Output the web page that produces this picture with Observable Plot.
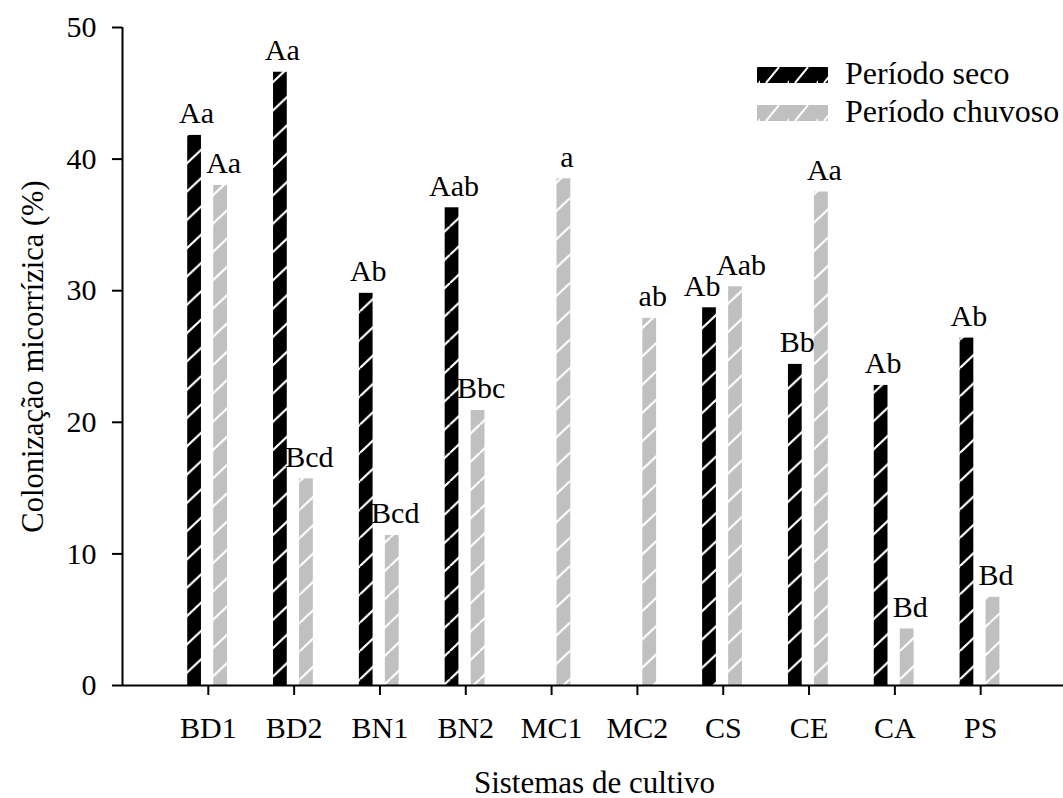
<!DOCTYPE html>
<html>
<head>
<meta charset="utf-8">
<script src="https://cdn.jsdelivr.net/npm/d3@7"></script>
<script src="https://cdn.jsdelivr.net/npm/@observablehq/plot@0.6"></script>
<style>
  html, body { margin: 0; padding: 0; background: #fff; overflow: hidden; }
  #wrap { position: relative; width: 1063px; height: 798px; }
  #legend { position: absolute; left: 0; top: 0; pointer-events: none; }
  text { font-family: "Liberation Serif", "Times New Roman", serif; }
</style>
</head>
<body>
<div id="wrap"></div>
<script>
// ---- data ----
const categories = ["BD1", "BD2", "BN1", "BN2", "MC1", "MC2", "CS", "CE", "CA", "PS"];
const seco      = [41.8, 46.6, 29.8, 36.3, null, null, 28.7, 24.4, 22.8, 26.4];
const chuvoso   = [38.0, 15.7, 11.4, 20.9, 38.5, 27.9, 30.3, 37.5, 4.3, 6.7];
const secoLabels    = ["Aa", "Aa", "Ab", "Aab", "", "", "Ab", "Bb", "Ab", "Ab"];
const chuvosoLabels = ["Aa", "Bcd", "Bcd", "Bbc", "a", "ab", "Aab", "Aa", "Bd", "Bd"];
const seriesNames = ["Período seco", "Período chuvoso"];
const yTicks = [0, 10, 20, 30, 40, 50];
const xTitle = "Sistemas de cultivo";
const yTitle = "Colonização micorrízica (%)";

// ---- layout/style settings (not data) ----
const FONT = "Liberation Serif";
const off = {dry: [-0.24, -0.08], wet: [0.063, 0.224]};
// small label nudges (in category units) to avoid collisions, as in the original
const labelNudge = {dry: {CS: -0.11}, wet: {CS: 0.03}};

// ---- build table ----
const rows = [];
categories.forEach((c, k) => {
  if (seco[k] != null) rows.push({i: k + 1, cat: c, series: seriesNames[0], value: seco[k], label: secoLabels[k]});
  if (chuvoso[k] != null) rows.push({i: k + 1, cat: c, series: seriesNames[1], value: chuvoso[k], label: chuvosoLabels[k]});
});
const dryRows = rows.filter(d => d.series === seriesNames[0]);
const wetRows = rows.filter(d => d.series === seriesNames[1]);

const chart = Plot.plot({
  width: 1063,
  height: 798,
  marginTop: 27,
  marginBottom: 113,
  marginLeft: 122,
  marginRight: 0,
  style: {fontFamily: FONT, fontSize: "30px", color: "black", background: "white", overflow: "visible"},
  x: {domain: [0, 11], range: [122, 1066]},
  y: {domain: [0, 50]},
  marks: [
    Plot.rect(dryRows, {x1: d => d.i + off.dry[0], x2: d => d.i + off.dry[1], y1: 0, y2: "value", fill: "url(#hatchDark)"}),
    Plot.rect(wetRows, {x1: d => d.i + off.wet[0], x2: d => d.i + off.wet[1], y1: 0, y2: "value", fill: "url(#hatchLight)"}),
    Plot.text(dryRows, {x: d => d.i + (off.dry[0] + off.dry[1]) / 2 + (labelNudge.dry[d.cat] || 0), y: "value", text: "label", lineAnchor: "bottom", dy: -12, dx: 2, fontSize: 30, fill: "black"}),
    Plot.text(wetRows, {x: d => d.i + (off.wet[0] + off.wet[1]) / 2 + (labelNudge.wet[d.cat] || 0), y: "value", text: "label", lineAnchor: "bottom", dy: -12, dx: 3, fontSize: 30, fill: "black"}),
    Plot.axisY({ticks: yTicks, tickSize: 10, tickPadding: 16, fontSize: 30, strokeWidth: 2, label: null, stroke: "black", fill: "black"}),
    Plot.axisX({ticks: d3.range(1, categories.length + 1), tickFormat: i => categories[i - 1], tickSize: 10, tickPadding: 21, fontSize: 30, strokeWidth: 2, label: null, stroke: "black", fill: "black"}),
    Plot.ruleX([0], {stroke: "black", strokeWidth: 2}),
    Plot.ruleY([0], {stroke: "black", strokeWidth: 2}),
    Plot.text([yTitle], {frameAnchor: "left", rotate: -90, dx: -80, lineAnchor: "bottom", textAnchor: "middle", fontSize: 30.5, fill: "black"}),
    Plot.text([xTitle], {frameAnchor: "bottom", dy: 107, dx: 1.5, lineAnchor: "bottom", textAnchor: "middle", fontSize: 31, fill: "black"})
  ]
});

// hatch patterns
const ns = "http://www.w3.org/2000/svg";
function makePattern(id, color, w, h) {
  const p = document.createElementNS(ns, "pattern");
  p.setAttribute("id", id);
  p.setAttribute("patternUnits", "userSpaceOnUse");
  p.setAttribute("width", w);
  p.setAttribute("height", h);
  const r = document.createElementNS(ns, "rect");
  r.setAttribute("width", w); r.setAttribute("height", h); r.setAttribute("fill", color);
  p.appendChild(r);
  const path = document.createElementNS(ns, "path");
  path.setAttribute("d", `M${-w},${h}L0,0M0,${h}L${w},0M${w},${h}L${2 * w},0`);
  path.setAttribute("stroke", "white");
  path.setAttribute("stroke-width", "2.2");
  p.appendChild(path);
  return p;
}
const defs = document.createElementNS(ns, "defs");
defs.appendChild(makePattern("hatchDark", "black", 30, 28.3));
defs.appendChild(makePattern("hatchLight", "#c0c0c0", 30, 28.3));
chart.insertBefore(defs, chart.firstChild);

const wrap = document.getElementById("wrap");
wrap.appendChild(chart);

// legend overlay
const legend = d3.select(wrap).append("svg")
  .attr("id", "legend").attr("width", 1063).attr("height", 798);
const ldefs = legend.append("defs");
[["legDark", "black"], ["legLight", "#c0c0c0"]].forEach(([id, col]) => {
  const p = ldefs.append("pattern").attr("id", id).attr("patternUnits", "userSpaceOnUse")
    .attr("width", 29).attr("height", 16).attr("x", 757).attr("y", 0);
  p.append("rect").attr("width", 29).attr("height", 16).attr("fill", col);
  p.append("path").attr("d", "M-16,16L-3,0M6,16L19,0M28,16L41,0").attr("stroke", "white").attr("stroke-width", 2);
});
const legItems = seriesNames.map((s, k) => ({name: s, fill: k === 0 ? "url(#legDark)" : "url(#legLight)", row: k}));
const lg = legend.selectAll("g").data(legItems).join("g")
  .attr("transform", d => `translate(757, ${67 + d.row * 38})`);
lg.append("rect").attr("width", 71).attr("height", 16).attr("rx", 1).attr("fill", d => d.fill);
lg.append("text").attr("x", 88).attr("y", 17).attr("font-size", 32).attr("fill", "black")
  .style("font-family", FONT).text(d => d.name);
</script>
</body>
</html>
